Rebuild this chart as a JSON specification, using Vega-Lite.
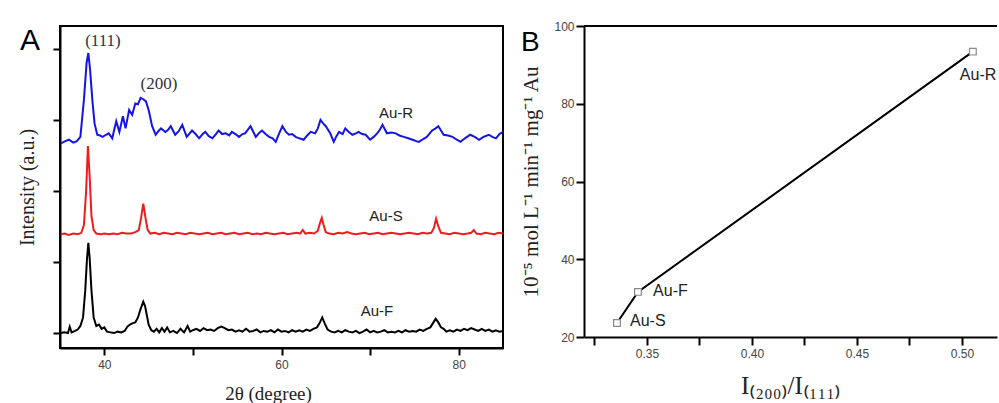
{
  "$schema": "https://vega.github.io/schema/vega-lite/v6.json",
  "padding": {"left": 16, "top": 20, "right": 0, "bottom": 0},
  "background": "white",
  "spacing": 81,
  "bounds": "flush",
  "config": {
    "font": "Liberation Sans",
    "view": {"stroke": null},
    "axis": {
      "grid": false,
      "domainColor": "black",
      "domainWidth": 2,
      "tickColor": "black",
      "tickWidth": 2,
      "labelFont": "Liberation Sans",
      "labelFontSize": 12,
      "labelColor": "#444444",
      "titleFont": "Liberation Serif",
      "titleFontWeight": "normal",
      "titleColor": "#222222",
      "titleFontSize": 19
    }
  },
  "datasets": {
    "xrd": [
      {"s":"Au-R","x":35.1,"y":2.67},{"s":"Au-R","x":35.6,"y":2.70},{"s":"Au-R","x":36.0,"y":2.72},{"s":"Au-R","x":36.5,"y":2.68},{"s":"Au-R","x":36.9,"y":2.70},{"s":"Au-R","x":37.3,"y":2.76},{"s":"Au-R","x":37.7,"y":3.28},{"s":"Au-R","x":38.0,"y":3.80},{"s":"Au-R","x":38.2,"y":3.94},{"s":"Au-R","x":38.4,"y":3.70},{"s":"Au-R","x":38.65,"y":3.28},{"s":"Au-R","x":38.9,"y":2.95},{"s":"Au-R","x":39.2,"y":2.79},{"s":"Au-R","x":39.5,"y":2.78},{"s":"Au-R","x":39.8,"y":2.76},{"s":"Au-R","x":40.2,"y":2.79},{"s":"Au-R","x":40.5,"y":2.81},{"s":"Au-R","x":40.9,"y":2.74},{"s":"Au-R","x":41.1,"y":2.85},{"s":"Au-R","x":41.35,"y":2.98},{"s":"Au-R","x":41.7,"y":2.83},{"s":"Au-R","x":42.1,"y":3.05},{"s":"Au-R","x":42.4,"y":2.88},{"s":"Au-R","x":42.8,"y":3.14},{"s":"Au-R","x":43.15,"y":3.07},{"s":"Au-R","x":43.5,"y":3.23},{"s":"Au-R","x":43.8,"y":3.22},{"s":"Au-R","x":44.1,"y":3.31},{"s":"Au-R","x":44.4,"y":3.29},{"s":"Au-R","x":44.7,"y":3.26},{"s":"Au-R","x":45.0,"y":3.14},{"s":"Au-R","x":45.4,"y":2.91},{"s":"Au-R","x":45.8,"y":2.79},{"s":"Au-R","x":46.1,"y":2.84},{"s":"Au-R","x":46.4,"y":2.88},{"s":"Au-R","x":46.9,"y":2.83},{"s":"Au-R","x":47.2,"y":2.86},{"s":"Au-R","x":47.5,"y":2.91},{"s":"Au-R","x":48.0,"y":2.79},{"s":"Au-R","x":48.4,"y":2.84},{"s":"Au-R","x":48.8,"y":2.93},{"s":"Au-R","x":49.3,"y":2.76},{"s":"Au-R","x":49.9,"y":2.85},{"s":"Au-R","x":50.3,"y":2.80},{"s":"Au-R","x":50.7,"y":2.74},{"s":"Au-R","x":51.1,"y":2.80},{"s":"Au-R","x":51.4,"y":2.83},{"s":"Au-R","x":51.8,"y":2.77},{"s":"Au-R","x":52.2,"y":2.74},{"s":"Au-R","x":52.6,"y":2.80},{"s":"Au-R","x":52.9,"y":2.85},{"s":"Au-R","x":53.3,"y":2.80},{"s":"Au-R","x":53.7,"y":2.81},{"s":"Au-R","x":54.1,"y":2.78},{"s":"Au-R","x":54.4,"y":2.83},{"s":"Au-R","x":54.8,"y":2.80},{"s":"Au-R","x":55.2,"y":2.76},{"s":"Au-R","x":55.6,"y":2.80},{"s":"Au-R","x":55.9,"y":2.81},{"s":"Au-R","x":56.5,"y":2.91},{"s":"Au-R","x":57.1,"y":2.76},{"s":"Au-R","x":57.5,"y":2.82},{"s":"Au-R","x":57.8,"y":2.85},{"s":"Au-R","x":58.2,"y":2.80},{"s":"Au-R","x":58.6,"y":2.76},{"s":"Au-R","x":59.0,"y":2.74},{"s":"Au-R","x":59.35,"y":2.69},{"s":"Au-R","x":59.7,"y":2.80},{"s":"Au-R","x":60.1,"y":2.91},{"s":"Au-R","x":60.5,"y":2.83},{"s":"Au-R","x":60.85,"y":2.79},{"s":"Au-R","x":61.2,"y":2.80},{"s":"Au-R","x":61.6,"y":2.76},{"s":"Au-R","x":62.0,"y":2.74},{"s":"Au-R","x":62.5,"y":2.72},{"s":"Au-R","x":62.9,"y":2.78},{"s":"Au-R","x":63.3,"y":2.83},{"s":"Au-R","x":63.8,"y":2.81},{"s":"Au-R","x":64.1,"y":2.88},{"s":"Au-R","x":64.4,"y":3.00},{"s":"Au-R","x":64.7,"y":2.95},{"s":"Au-R","x":65.0,"y":2.91},{"s":"Au-R","x":65.5,"y":2.81},{"s":"Au-R","x":65.9,"y":2.69},{"s":"Au-R","x":66.2,"y":2.77},{"s":"Au-R","x":66.5,"y":2.83},{"s":"Au-R","x":66.9,"y":2.80},{"s":"Au-R","x":67.2,"y":2.88},{"s":"Au-R","x":67.6,"y":2.83},{"s":"Au-R","x":68.0,"y":2.79},{"s":"Au-R","x":68.4,"y":2.81},{"s":"Au-R","x":68.7,"y":2.83},{"s":"Au-R","x":69.1,"y":2.80},{"s":"Au-R","x":69.5,"y":2.79},{"s":"Au-R","x":70.0,"y":2.72},{"s":"Au-R","x":70.4,"y":2.76},{"s":"Au-R","x":70.8,"y":2.81},{"s":"Au-R","x":71.1,"y":2.86},{"s":"Au-R","x":71.4,"y":2.93},{"s":"Au-R","x":71.9,"y":2.81},{"s":"Au-R","x":72.4,"y":2.82},{"s":"Au-R","x":72.9,"y":2.81},{"s":"Au-R","x":73.3,"y":2.78},{"s":"Au-R","x":73.8,"y":2.76},{"s":"Au-R","x":74.3,"y":2.74},{"s":"Au-R","x":74.8,"y":2.72},{"s":"Au-R","x":75.2,"y":2.70},{"s":"Au-R","x":75.5,"y":2.69},{"s":"Au-R","x":76.0,"y":2.73},{"s":"Au-R","x":76.4,"y":2.76},{"s":"Au-R","x":76.8,"y":2.82},{"s":"Au-R","x":77.0,"y":2.85},{"s":"Au-R","x":77.4,"y":2.88},{"s":"Au-R","x":77.7,"y":2.91},{"s":"Au-R","x":78.0,"y":2.85},{"s":"Au-R","x":78.3,"y":2.79},{"s":"Au-R","x":78.8,"y":2.78},{"s":"Au-R","x":79.3,"y":2.76},{"s":"Au-R","x":79.8,"y":2.72},{"s":"Au-R","x":80.2,"y":2.69},{"s":"Au-R","x":80.7,"y":2.74},{"s":"Au-R","x":81.3,"y":2.79},{"s":"Au-R","x":81.8,"y":2.76},{"s":"Au-R","x":82.3,"y":2.72},{"s":"Au-R","x":82.8,"y":2.76},{"s":"Au-R","x":83.4,"y":2.79},{"s":"Au-R","x":83.8,"y":2.76},{"s":"Au-R","x":84.2,"y":2.74},{"s":"Au-R","x":84.6,"y":2.80},{"s":"Au-R","x":85.0,"y":2.83},
      {"s":"Au-S","x":35.1,"y":1.39},{"s":"Au-S","x":35.5,"y":1.40},{"s":"Au-S","x":36.0,"y":1.38},{"s":"Au-S","x":36.5,"y":1.40},{"s":"Au-S","x":37.0,"y":1.39},{"s":"Au-S","x":37.4,"y":1.41},{"s":"Au-S","x":37.7,"y":1.52},{"s":"Au-S","x":37.95,"y":2.0},{"s":"Au-S","x":38.15,"y":2.63},{"s":"Au-S","x":38.35,"y":2.2},{"s":"Au-S","x":38.55,"y":1.65},{"s":"Au-S","x":38.8,"y":1.45},{"s":"Au-S","x":39.1,"y":1.40},{"s":"Au-S","x":39.6,"y":1.39},{"s":"Au-S","x":40.0,"y":1.40},{"s":"Au-S","x":40.5,"y":1.39},{"s":"Au-S","x":41.0,"y":1.40},{"s":"Au-S","x":41.5,"y":1.39},{"s":"Au-S","x":42.0,"y":1.41},{"s":"Au-S","x":42.5,"y":1.40},{"s":"Au-S","x":43.0,"y":1.40},{"s":"Au-S","x":43.5,"y":1.42},{"s":"Au-S","x":43.9,"y":1.45},{"s":"Au-S","x":44.15,"y":1.62},{"s":"Au-S","x":44.4,"y":1.82},{"s":"Au-S","x":44.65,"y":1.62},{"s":"Au-S","x":44.9,"y":1.45},{"s":"Au-S","x":45.2,"y":1.40},{"s":"Au-S","x":45.7,"y":1.41},{"s":"Au-S","x":46.2,"y":1.39},{"s":"Au-S","x":46.7,"y":1.41},{"s":"Au-S","x":47.2,"y":1.40},{"s":"Au-S","x":47.7,"y":1.39},{"s":"Au-S","x":48.2,"y":1.41},{"s":"Au-S","x":48.7,"y":1.40},{"s":"Au-S","x":49.2,"y":1.39},{"s":"Au-S","x":49.7,"y":1.41},{"s":"Au-S","x":50.2,"y":1.40},{"s":"Au-S","x":50.7,"y":1.39},{"s":"Au-S","x":51.2,"y":1.40},{"s":"Au-S","x":51.7,"y":1.41},{"s":"Au-S","x":52.2,"y":1.39},{"s":"Au-S","x":52.7,"y":1.40},{"s":"Au-S","x":53.2,"y":1.41},{"s":"Au-S","x":53.7,"y":1.39},{"s":"Au-S","x":54.2,"y":1.40},{"s":"Au-S","x":54.7,"y":1.41},{"s":"Au-S","x":55.2,"y":1.39},{"s":"Au-S","x":55.7,"y":1.40},{"s":"Au-S","x":56.2,"y":1.41},{"s":"Au-S","x":56.7,"y":1.39},{"s":"Au-S","x":57.2,"y":1.40},{"s":"Au-S","x":57.7,"y":1.39},{"s":"Au-S","x":58.2,"y":1.41},{"s":"Au-S","x":58.7,"y":1.40},{"s":"Au-S","x":59.2,"y":1.39},{"s":"Au-S","x":59.7,"y":1.40},{"s":"Au-S","x":60.2,"y":1.41},{"s":"Au-S","x":60.7,"y":1.39},{"s":"Au-S","x":61.2,"y":1.40},{"s":"Au-S","x":61.7,"y":1.41},{"s":"Au-S","x":62.1,"y":1.40},{"s":"Au-S","x":62.4,"y":1.45},{"s":"Au-S","x":62.7,"y":1.40},{"s":"Au-S","x":63.2,"y":1.41},{"s":"Au-S","x":63.7,"y":1.40},{"s":"Au-S","x":64.1,"y":1.44},{"s":"Au-S","x":64.35,"y":1.55},{"s":"Au-S","x":64.55,"y":1.62},{"s":"Au-S","x":64.75,"y":1.52},{"s":"Au-S","x":65.0,"y":1.42},{"s":"Au-S","x":65.4,"y":1.40},{"s":"Au-S","x":65.9,"y":1.39},{"s":"Au-S","x":66.4,"y":1.41},{"s":"Au-S","x":66.9,"y":1.40},{"s":"Au-S","x":67.4,"y":1.42},{"s":"Au-S","x":67.9,"y":1.40},{"s":"Au-S","x":68.4,"y":1.39},{"s":"Au-S","x":68.9,"y":1.40},{"s":"Au-S","x":69.4,"y":1.41},{"s":"Au-S","x":69.9,"y":1.39},{"s":"Au-S","x":70.4,"y":1.40},{"s":"Au-S","x":70.9,"y":1.41},{"s":"Au-S","x":71.4,"y":1.39},{"s":"Au-S","x":71.9,"y":1.40},{"s":"Au-S","x":72.4,"y":1.41},{"s":"Au-S","x":72.9,"y":1.40},{"s":"Au-S","x":73.4,"y":1.39},{"s":"Au-S","x":73.9,"y":1.40},{"s":"Au-S","x":74.4,"y":1.41},{"s":"Au-S","x":74.9,"y":1.40},{"s":"Au-S","x":75.4,"y":1.39},{"s":"Au-S","x":75.9,"y":1.41},{"s":"Au-S","x":76.4,"y":1.40},{"s":"Au-S","x":76.9,"y":1.41},{"s":"Au-S","x":77.2,"y":1.48},{"s":"Au-S","x":77.45,"y":1.61},{"s":"Au-S","x":77.7,"y":1.50},{"s":"Au-S","x":78.0,"y":1.41},{"s":"Au-S","x":78.5,"y":1.40},{"s":"Au-S","x":79.0,"y":1.39},{"s":"Au-S","x":79.5,"y":1.41},{"s":"Au-S","x":80.0,"y":1.40},{"s":"Au-S","x":80.5,"y":1.39},{"s":"Au-S","x":81.0,"y":1.40},{"s":"Au-S","x":81.4,"y":1.41},{"s":"Au-S","x":81.7,"y":1.45},{"s":"Au-S","x":82.0,"y":1.40},{"s":"Au-S","x":82.5,"y":1.39},{"s":"Au-S","x":83.0,"y":1.41},{"s":"Au-S","x":83.5,"y":1.40},{"s":"Au-S","x":84.0,"y":1.39},{"s":"Au-S","x":84.5,"y":1.41},{"s":"Au-S","x":85.0,"y":1.40},
      {"s":"Au-F","x":35.1,"y":0.00},{"s":"Au-F","x":35.5,"y":0.01},{"s":"Au-F","x":35.9,"y":0.00},{"s":"Au-F","x":36.1,"y":0.09},{"s":"Au-F","x":36.3,"y":0.01},{"s":"Au-F","x":36.7,"y":0.03},{"s":"Au-F","x":37.0,"y":0.05},{"s":"Au-F","x":37.3,"y":0.10},{"s":"Au-F","x":37.6,"y":0.22},{"s":"Au-F","x":37.85,"y":0.6},{"s":"Au-F","x":38.05,"y":1.05},{"s":"Au-F","x":38.2,"y":1.27},{"s":"Au-F","x":38.35,"y":1.05},{"s":"Au-F","x":38.55,"y":0.6},{"s":"Au-F","x":38.8,"y":0.22},{"s":"Au-F","x":39.1,"y":0.10},{"s":"Au-F","x":39.4,"y":0.12},{"s":"Au-F","x":39.7,"y":0.06},{"s":"Au-F","x":40.0,"y":0.08},{"s":"Au-F","x":40.3,"y":0.02},{"s":"Au-F","x":40.7,"y":0.01},{"s":"Au-F","x":41.1,"y":0.00},{"s":"Au-F","x":41.5,"y":0.02},{"s":"Au-F","x":41.9,"y":0.01},{"s":"Au-F","x":42.3,"y":0.03},{"s":"Au-F","x":42.6,"y":0.09},{"s":"Au-F","x":42.9,"y":0.12},{"s":"Au-F","x":43.2,"y":0.14},{"s":"Au-F","x":43.5,"y":0.15},{"s":"Au-F","x":43.8,"y":0.22},{"s":"Au-F","x":44.1,"y":0.34},{"s":"Au-F","x":44.4,"y":0.44},{"s":"Au-F","x":44.6,"y":0.38},{"s":"Au-F","x":44.8,"y":0.25},{"s":"Au-F","x":45.0,"y":0.12},{"s":"Au-F","x":45.3,"y":0.04},{"s":"Au-F","x":45.6,"y":0.02},{"s":"Au-F","x":45.9,"y":0.06},{"s":"Au-F","x":46.2,"y":0.01},{"s":"Au-F","x":46.5,"y":0.07},{"s":"Au-F","x":46.8,"y":0.02},{"s":"Au-F","x":47.1,"y":0.08},{"s":"Au-F","x":47.4,"y":0.01},{"s":"Au-F","x":47.8,"y":0.03},{"s":"Au-F","x":48.2,"y":0.00},{"s":"Au-F","x":48.6,"y":0.06},{"s":"Au-F","x":49.0,"y":0.01},{"s":"Au-F","x":49.4,"y":0.10},{"s":"Au-F","x":49.7,"y":0.02},{"s":"Au-F","x":50.0,"y":0.04},{"s":"Au-F","x":50.4,"y":0.06},{"s":"Au-F","x":50.8,"y":0.03},{"s":"Au-F","x":51.2,"y":0.07},{"s":"Au-F","x":51.6,"y":0.04},{"s":"Au-F","x":52.0,"y":0.05},{"s":"Au-F","x":52.4,"y":0.03},{"s":"Au-F","x":52.8,"y":0.07},{"s":"Au-F","x":53.2,"y":0.09},{"s":"Au-F","x":53.6,"y":0.07},{"s":"Au-F","x":54.0,"y":0.04},{"s":"Au-F","x":54.4,"y":0.05},{"s":"Au-F","x":54.8,"y":0.02},{"s":"Au-F","x":55.2,"y":0.04},{"s":"Au-F","x":55.6,"y":0.02},{"s":"Au-F","x":56.0,"y":0.06},{"s":"Au-F","x":56.4,"y":0.02},{"s":"Au-F","x":56.8,"y":0.03},{"s":"Au-F","x":57.2,"y":0.05},{"s":"Au-F","x":57.6,"y":0.01},{"s":"Au-F","x":58.0,"y":0.03},{"s":"Au-F","x":58.4,"y":0.02},{"s":"Au-F","x":58.8,"y":0.04},{"s":"Au-F","x":59.2,"y":0.01},{"s":"Au-F","x":59.6,"y":0.05},{"s":"Au-F","x":60.0,"y":0.02},{"s":"Au-F","x":60.4,"y":0.03},{"s":"Au-F","x":60.8,"y":0.01},{"s":"Au-F","x":61.2,"y":0.04},{"s":"Au-F","x":61.6,"y":0.02},{"s":"Au-F","x":62.0,"y":0.04},{"s":"Au-F","x":62.4,"y":0.02},{"s":"Au-F","x":62.8,"y":0.05},{"s":"Au-F","x":63.2,"y":0.03},{"s":"Au-F","x":63.6,"y":0.06},{"s":"Au-F","x":64.0,"y":0.08},{"s":"Au-F","x":64.3,"y":0.14},{"s":"Au-F","x":64.6,"y":0.22},{"s":"Au-F","x":64.9,"y":0.13},{"s":"Au-F","x":65.2,"y":0.05},{"s":"Au-F","x":65.6,"y":0.02},{"s":"Au-F","x":66.0,"y":0.01},{"s":"Au-F","x":66.4,"y":0.03},{"s":"Au-F","x":66.8,"y":0.01},{"s":"Au-F","x":67.2,"y":0.04},{"s":"Au-F","x":67.6,"y":0.02},{"s":"Au-F","x":68.0,"y":0.01},{"s":"Au-F","x":68.4,"y":0.03},{"s":"Au-F","x":68.8,"y":0.00},{"s":"Au-F","x":69.2,"y":0.02},{"s":"Au-F","x":69.6,"y":0.05},{"s":"Au-F","x":70.0,"y":0.01},{"s":"Au-F","x":70.4,"y":0.03},{"s":"Au-F","x":70.8,"y":0.01},{"s":"Au-F","x":71.2,"y":0.02},{"s":"Au-F","x":71.6,"y":0.04},{"s":"Au-F","x":72.0,"y":0.01},{"s":"Au-F","x":72.4,"y":0.02},{"s":"Au-F","x":72.8,"y":0.01},{"s":"Au-F","x":73.2,"y":0.03},{"s":"Au-F","x":73.6,"y":0.01},{"s":"Au-F","x":74.0,"y":0.04},{"s":"Au-F","x":74.4,"y":0.02},{"s":"Au-F","x":74.8,"y":0.03},{"s":"Au-F","x":75.2,"y":0.02},{"s":"Au-F","x":75.6,"y":0.05},{"s":"Au-F","x":76.0,"y":0.03},{"s":"Au-F","x":76.4,"y":0.06},{"s":"Au-F","x":76.8,"y":0.08},{"s":"Au-F","x":77.1,"y":0.14},{"s":"Au-F","x":77.4,"y":0.20},{"s":"Au-F","x":77.7,"y":0.15},{"s":"Au-F","x":78.0,"y":0.08},{"s":"Au-F","x":78.3,"y":0.06},{"s":"Au-F","x":78.6,"y":0.02},{"s":"Au-F","x":79.0,"y":0.04},{"s":"Au-F","x":79.4,"y":0.02},{"s":"Au-F","x":79.8,"y":0.05},{"s":"Au-F","x":80.2,"y":0.03},{"s":"Au-F","x":80.6,"y":0.06},{"s":"Au-F","x":81.0,"y":0.04},{"s":"Au-F","x":81.4,"y":0.07},{"s":"Au-F","x":81.8,"y":0.05},{"s":"Au-F","x":82.2,"y":0.03},{"s":"Au-F","x":82.6,"y":0.06},{"s":"Au-F","x":83.0,"y":0.03},{"s":"Au-F","x":83.4,"y":0.05},{"s":"Au-F","x":83.8,"y":0.02},{"s":"Au-F","x":84.2,"y":0.04},{"s":"Au-F","x":84.6,"y":0.02},{"s":"Au-F","x":85.0,"y":0.03}
    ],
    "peaksA": [
      {"t":"(111)","x":39.85,"y":4.035},
      {"t":"(200)","x":46.17,"y":3.44}
    ],
    "samplesA": [
      {"t":"Au-R","x":72.92,"y":3.02},
      {"t":"Au-S","x":71.79,"y":1.58},
      {"t":"Au-F","x":70.78,"y":0.24}
    ],
    "panelA": [{"t":"A","x":30.49,"y":3.98}],
    "rate": [
      {"s":"Au-S","ratio":0.3357,"rate":23.6},
      {"s":"Au-F","ratio":0.3457,"rate":31.6},
      {"s":"Au-R","ratio":0.5052,"rate":93.4}
    ],
    "labelsB": [
      {"t":"Au-S","x":0.3419,"y":22.75},
      {"t":"Au-F","x":0.3529,"y":30.46},
      {"t":"Au-R","x":0.499,"y":86.07}
    ],
    "panelB": [{"t":"B","x":0.29,"y":93.5}]
  },
  "hconcat": [
    {
      "width": 443,
      "height": 322,
      "view": {"stroke": "black", "strokeWidth": 2},
      "layer": [
        {
          "data": {"name": "xrd"},
          "mark": {"type": "line", "strokeWidth": 2, "clip": true},
          "encoding": {
            "x": {"field": "x", "type": "quantitative",
              "scale": {"domain": [35, 85], "nice": false, "zero": false},
              "axis": {"values": [40, 50, 60, 70, 80], "labelExpr": "datum.value % 20 == 0 ? datum.label : ''", "tickSize": 7, "labelPadding": 4, "title": "2θ (degree)", "titlePadding": 14, "titleX": 208}},
            "y": {"field": "y", "type": "quantitative",
              "scale": {"domain": [-0.21, 4.32], "nice": false, "zero": false},
              "axis": {"values": [0, 1, 2, 3, 4], "labels": false, "tickSize": 7, "title": "Intensity (a.u.)", "titleFontSize": 20, "titlePadding": 15}},
            "color": {"field": "s", "type": "nominal",
              "scale": {"domain": ["Au-R", "Au-S", "Au-F"], "range": ["#1414e6", "#ee1c1c", "#000000"]},
              "legend": null}
          }
        },
        {
          "data": {"name": "peaksA"},
          "mark": {"type": "text", "font": "Liberation Serif", "fontSize": 17, "color": "#333333", "align": "center", "baseline": "alphabetic"},
          "encoding": {
            "x": {"field": "x", "type": "quantitative"},
            "y": {"field": "y", "type": "quantitative"},
            "text": {"field": "t"}
          }
        },
        {
          "data": {"name": "samplesA"},
          "mark": {"type": "text", "font": "Liberation Sans", "fontSize": 15, "color": "#222222", "align": "center", "baseline": "alphabetic"},
          "encoding": {
            "x": {"field": "x", "type": "quantitative"},
            "y": {"field": "y", "type": "quantitative"},
            "text": {"field": "t"}
          }
        },
        {
          "data": {"name": "panelA"},
          "mark": {"type": "text", "font": "Liberation Sans", "fontSize": 30, "color": "#000000", "align": "left", "baseline": "alphabetic"},
          "encoding": {
            "x": {"field": "x", "type": "quantitative"},
            "y": {"field": "y", "type": "quantitative"},
            "text": {"field": "t"}
          }
        }
      ]
    },
    {
      "width": 413,
      "height": 311,
      "layer": [
        {
          "data": {"name": "rate"},
          "mark": {"type": "line", "color": "black", "strokeWidth": 2},
          "encoding": {
            "x": {"field": "ratio", "type": "quantitative",
              "scale": {"domain": [0.32, 0.5167], "nice": false, "zero": false},
              "axis": {"values": [0.325, 0.35, 0.375, 0.4, 0.425, 0.45, 0.475, 0.5], "labelExpr": "round(datum.value * 1000) % 50 == 0 ? format(datum.value, '.2f') : ''", "tickSize": 8, "labelPadding": 3, "title": "I₍₂₀₀₎/I₍₁₁₁₎", "titleFontSize": 25, "titlePadding": 14}},
            "y": {"field": "rate", "type": "quantitative",
              "scale": {"domain": [20, 100], "nice": false, "zero": false},
              "axis": {"values": [20, 30, 40, 50, 60, 70, 80, 90, 100], "labelExpr": "datum.value % 20 == 0 ? datum.label : ''", "tickSize": 8, "labelPadding": 2, "title": "10⁻⁵ mol L⁻¹ min⁻¹ mg⁻¹ Au", "titleFontSize": 21, "titlePadding": 12}}
          }
        },
        {
          "data": {"name": "rate"},
          "mark": {"type": "rule", "color": "black", "strokeWidth": 2},
          "encoding": {"y": {"datum": 100}}
        },
        {
          "data": {"name": "rate"},
          "mark": {"type": "point", "shape": "square", "filled": true, "fill": "white", "stroke": "#888888", "strokeWidth": 1.2, "size": 45, "opacity": 1},
          "encoding": {
            "x": {"field": "ratio", "type": "quantitative"},
            "y": {"field": "rate", "type": "quantitative"}
          }
        },
        {
          "data": {"name": "labelsB"},
          "mark": {"type": "text", "font": "Liberation Sans", "fontSize": 16, "color": "#222222", "align": "left", "baseline": "alphabetic"},
          "encoding": {
            "x": {"field": "x", "type": "quantitative"},
            "y": {"field": "y", "type": "quantitative"},
            "text": {"field": "t"}
          }
        },
        {
          "data": {"name": "panelB"},
          "mark": {"type": "text", "font": "Liberation Sans", "fontSize": 28, "color": "#000000", "align": "left", "baseline": "alphabetic"},
          "encoding": {
            "x": {"field": "x", "type": "quantitative"},
            "y": {"field": "y", "type": "quantitative"},
            "text": {"field": "t"}
          }
        }
      ]
    }
  ]
}
